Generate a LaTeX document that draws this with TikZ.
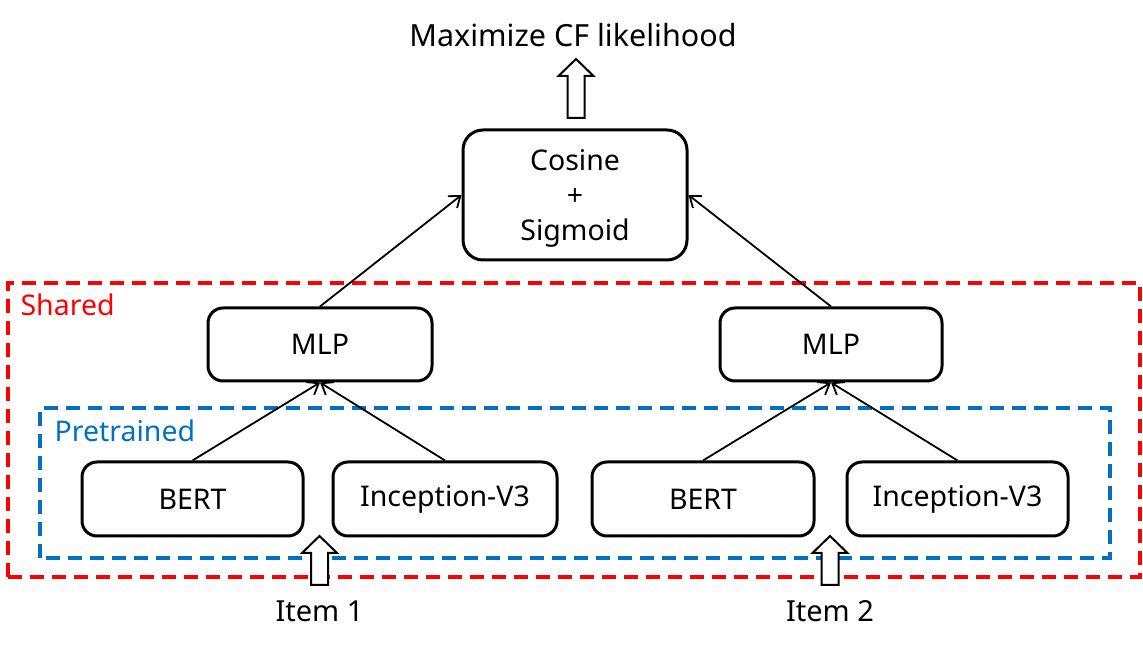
\documentclass[tikz,border=0pt]{standalone}
\usepackage{fontspec}
\setmainfont{Noto Sans}
\usetikzlibrary{arrows.meta}
\definecolor{sharedred}{RGB}{255,0,0}
\definecolor{pretrainblue}{RGB}{0,112,192}

% hollow up arrow: #1 = foot coordinate, #2 = length
\newcommand{\uparr}[2]{%
    \draw[hollow, shift={(#1)}] (-8.5,0) -- (-8.5,#2-17) -- (-17.5,#2-17) -- (0,#2)
        -- (17.5,#2-17) -- (8.5,#2-17) -- (8.5,0) -- cycle;}

\begin{document}
\begin{tikzpicture}[x=1pt, y=1pt,
    block/.style={draw, line width=3pt, rounded corners=15pt, inner sep=0pt,
        font=\fontsize{28.5}{34}\selectfont},
    link/.style={-{Straight Barb[length=10pt, width=15pt]}, line width=1.8pt},
    hollow/.style={draw, line width=2pt, fill=white},
    group/.style={dashed, dash pattern=on 14pt off 8pt, line width=3.2pt}]
    \useasboundingbox (0,0) rectangle (1143,647);

    % Groups
    \draw[group, sharedred] (8,70) rectangle (1140,364);
    \draw[group, pretrainblue] (40,89) rectangle (1110,239);
    \node[anchor=base west, sharedred, font=\fontsize{28.5}{34}\selectfont] (shared) at (17,331) {Shared};
    \node[anchor=base west, pretrainblue, font=\fontsize{28.5}{34}\selectfont] (pretrained) at (51,205) {Pretrained};

    % Encoders
    \node[block, minimum width=221pt, minimum height=74pt] (bert1) at (192.5,148) {BERT};
    \node[block, minimum width=224pt, minimum height=74pt] (incep1) at (445,148) {Inception-V3};
    \node[block, minimum width=222pt, minimum height=74pt] (bert2) at (703,148) {BERT};
    \node[block, minimum width=221pt, minimum height=74pt] (incep2) at (957.5,148) {Inception-V3};

    % MLPs
    \node[block, minimum width=224pt, minimum height=73pt] (mlp1) at (320,302.5) {MLP};
    \node[block, minimum width=222pt, minimum height=73pt] (mlp2) at (831,302.5) {MLP};

    % Score
    \node[block, rounded corners=20pt, minimum width=224pt, minimum height=130pt]
        (score) at (575,452) {\raisebox{-4pt}[\height][\depth]{\begin{tabular}{@{}c@{}}Cosine\\[1pt]+\\[1pt]Sigmoid\end{tabular}}};

    % Connectors
    \draw[link] (bert1.north) -- (mlp1.south);
    \draw[link] (incep1.north) -- (mlp1.south);
    \draw[link] (bert2.north) -- (mlp2.south);
    \draw[link] (incep2.north) -- (mlp2.south);
    \draw[link] (mlp1.north) -- (score.west);
    \draw[link] (mlp2.north) -- (score.east);

    % Inputs and objective
    \node[anchor=base, font=\fontsize{29}{34}\selectfont] (item1) at (319.5,25) {Item 1};
    \node[anchor=base, font=\fontsize{29}{34}\selectfont] (item2) at (830,25) {Item 2};
    \node[anchor=base, font=\fontsize{30.5}{36}\selectfont] (goal) at (573,600) {Maximize CF likelihood};
    \coordinate (in1) at (319.5,62);
    \coordinate (in2) at (830,62);
    \coordinate (out) at (576,529);
    \uparr{in1}{49}
    \uparr{in2}{49}
    \uparr{out}{59}
\end{tikzpicture}
\end{document}
